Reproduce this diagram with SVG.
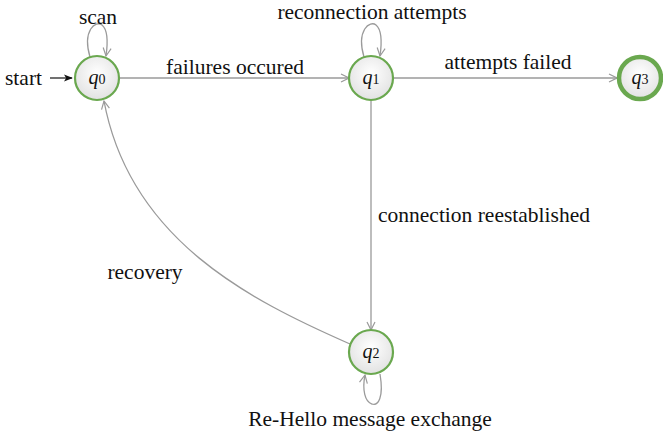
<svg xmlns="http://www.w3.org/2000/svg" width="663" height="435" viewBox="0 0 663 435">
  <style>
    .state { fill: url(#stateFill); stroke: #6aa84f; stroke-width: 2.2; }
    .final { stroke-width: 4.5; }
    .edge { fill: none; stroke: #9a9a9a; stroke-width: 1.3; marker-end: url(#arrow); }
    .lbl { font-family: "Liberation Serif", "DejaVu Serif", serif; font-size: 21.5px; fill: #111; }
    .q { font-family: "Liberation Serif", "DejaVu Serif", serif; font-size: 20px; font-style: italic; fill: #111; }
    .sub { font-style: normal; font-size: 14px; }
  </style>
  <defs>
    <radialGradient id="stateFill" cx="0.5" cy="0.4" r="0.6">
      <stop offset="0" stop-color="#ffffff"/>
      <stop offset="1" stop-color="#e2e2e2"/>
    </radialGradient>
    <marker id="arrow" viewBox="0 0 10 10" refX="9" refY="5" markerWidth="10" markerHeight="10" markerUnits="userSpaceOnUse" orient="auto">
      <path d="M1,1 L9,5 L1,9" fill="none" stroke="#9a9a9a" stroke-width="1.2"/>
    </marker>
    <marker id="arrowBlack" viewBox="0 0 10 10" refX="9" refY="5" markerWidth="9" markerHeight="9" markerUnits="userSpaceOnUse" orient="auto">
      <path d="M0,1 L10,5 L0,9 L2.5,5 Z" fill="#111"/>
    </marker>
  </defs>

  <g id="connectors">
    <!-- initial arrow -->
    <line x1="50" y1="78" x2="72" y2="78" stroke="#111" stroke-width="1.2" marker-end="url(#arrowBlack)"/>
    <!-- self loops -->
    <path class="edge" d="M90,57 C82,30 96,20 102,25 C108,30 108,42 106,56"/>
    <path class="edge" d="M364,57 C356,30 370,20 376,25 C382,30 382,42 380,56"/>
    <path class="edge" d="M380,374 C384,398 378,406 372,404 C365,402 362,390 365,375"/>
    <!-- transitions -->
    <path class="edge" d="M119,78 L349,78"/>
    <path class="edge" d="M393,78 L617,78"/>
    <path class="edge" d="M371,100 L371,330"/>
    <path class="edge" d="M350,344 C250,300 130,240 104,101"/>
  </g>

  <g id="edge-labels">
    <text class="lbl" x="98" y="24" text-anchor="middle">scan</text>
    <text class="lbl" x="5" y="85">start</text>
    <text class="lbl" x="235" y="74" text-anchor="middle">failures occured</text>
    <text class="lbl" x="372" y="19" text-anchor="middle">reconnection attempts</text>
    <text class="lbl" x="508" y="69" text-anchor="middle">attempts failed</text>
    <text class="lbl" x="378" y="222">connection reestablished</text>
    <text class="lbl" x="145" y="279" text-anchor="middle">recovery</text>
    <text class="lbl" x="370" y="426" text-anchor="middle">Re-Hello message exchange</text>
  </g>

  <g id="q0">
    <circle class="state" cx="97" cy="78" r="22"/>
    <text class="q" x="97" y="84" text-anchor="middle">q<tspan class="sub">0</tspan></text>
  </g>
  <g id="q1">
    <circle class="state" cx="371" cy="78" r="22"/>
    <text class="q" x="371" y="84" text-anchor="middle">q<tspan class="sub">1</tspan></text>
  </g>
  <g id="q2">
    <circle class="state" cx="371" cy="352" r="22"/>
    <text class="q" x="371" y="358" text-anchor="middle">q<tspan class="sub">2</tspan></text>
  </g>
  <g id="q3">
    <circle class="state final" cx="640" cy="78" r="21"/>
    <text class="q" x="640" y="84" text-anchor="middle">q<tspan class="sub">3</tspan></text>
  </g>
</svg>
